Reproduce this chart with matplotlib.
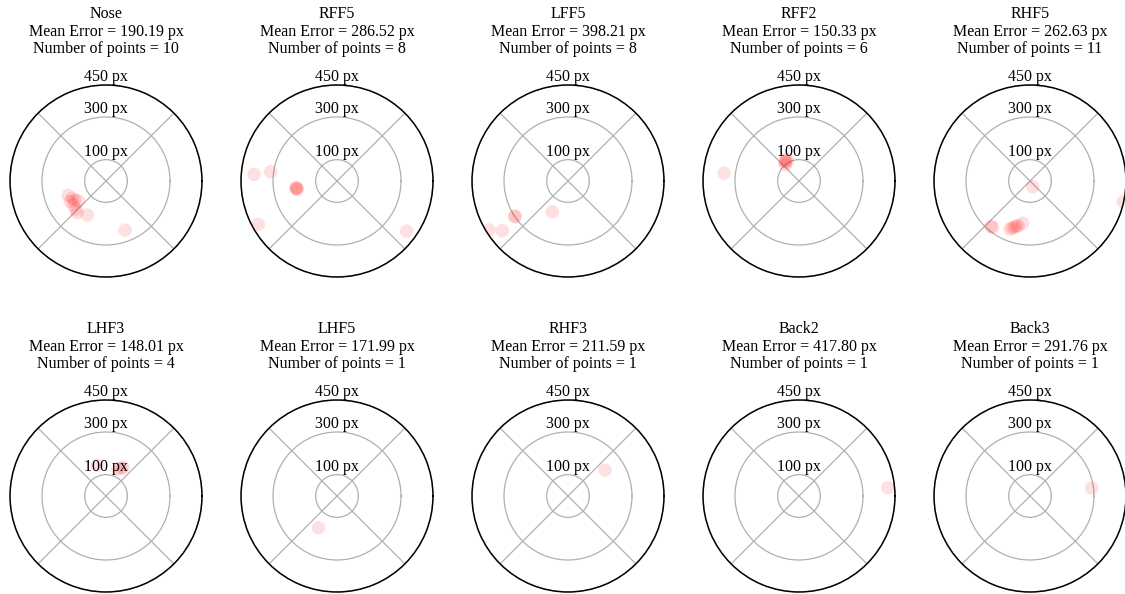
import numpy as np
import matplotlib
matplotlib.use('Agg')
import matplotlib.pyplot as plt

plt.rcParams['font.family'] = 'Liberation Serif'
plt.rcParams['font.size'] = 11.5

# keypoint names and reported mean error (px)
names = ['Nose', 'RFF5', 'LFF5', 'RFF2', 'RHF5',
         'LHF3', 'LHF5', 'RHF3', 'Back2', 'Back3']
mean_err = [190.19, 286.52, 398.21, 150.33, 262.63,
            148.01, 171.99, 211.59, 417.80, 291.76]

# error direction (deg) and magnitude (px) for each point
nose_ang = [200.8, 206.8, 211.5, 215.4, 216.3, 209.9, 223.1, 241.2, 291.2, 227.8]
nose_r = [190, 178, 171, 159, 190, 193, 195, 182, 247, 200]
rff5_ang = [175.4, 172.0, 190, 191, 192, 189, 208.8, 324.3]
rff5_r = [390, 314, 192, 195, 190, 194, 421, 402]
lff5_ang = [211.8, 217.1, 213.4, 214.0, 243.0, 200, 215, 160]
lff5_r = [436, 386, 298, 300, 162, 530, 540, 536]
rff2_ang = [174.1, 126, 122, 120, 130, 124]
rff2_r = [353, 112, 105, 118, 100, 114]
rhf5_ang = [295.3, 229.3, 231.0, 247.5, 249.0, 251.3, 253.0, 255.3, 260.2, 347.5, 330]
rhf5_r = [29.5, 282, 278, 245, 235, 229, 222, 216, 201, 448, 503.5]
lhf3_ang = [61.6, 66.5, 106, 59]
lhf3_r = [148, 138, 150, 156]
lhf5_ang = [240]
lhf5_r = [171.99]
rhf3_ang = [35]
rhf3_r = [211.59]
back2_ang = [5.4]
back2_r = [417.80]
back3_ang = [7.4]
back3_r = [291.76]

angles = [nose_ang, rff5_ang, lff5_ang, rff2_ang, rhf5_ang,
          lhf3_ang, lhf5_ang, rhf3_ang, back2_ang, back3_ang]
radii = [nose_r, rff5_r, lff5_r, rff2_r, rhf5_r,
         lhf3_r, lhf5_r, rhf3_r, back2_r, back3_r]

rticks = [100, 300, 450]
rmax = 450

W, H = 1125, 594
fig = plt.figure(figsize=(W / 100, H / 100), dpi=100)

col_x = [106, 337, 568, 799, 1030]
row_y = [181, 496]
rad = 96

for i in range(len(names)):
    cx = col_x[i % 5]
    cy = row_y[i // 5]
    ax = fig.add_axes([(cx - rad) / W, (H - cy - rad) / H, 2 * rad / W, 2 * rad / H],
                      projection='polar')
    ax.scatter(np.deg2rad(angles[i]), radii[i], s=95, color='red', alpha=0.12,
               edgecolors='none', zorder=3)
    ax.set_ylim(0, rmax)
    ax.set_yticks(rticks)
    ax.set_yticklabels([])
    ax.set_thetagrids([45, 135, 225, 315], labels=[])
    ax.grid(True, color='#b0b0b0', linewidth=0.9)
    ax.spines['polar'].set_color('black')
    ax.spines['polar'].set_linewidth(1.1)
    for t in rticks:
        ax.text(np.pi / 2, t, '%d px' % t, ha='center', va='bottom', zorder=4)
    ax.set_title('%s\nMean Error = %.2f px\nNumber of points = %d'
                 % (names[i], mean_err[i], len(radii[i])),
                 y=1.165, pad=0, linespacing=1.15, fontsize=11.5)

fig.savefig('out.png', dpi=100)
